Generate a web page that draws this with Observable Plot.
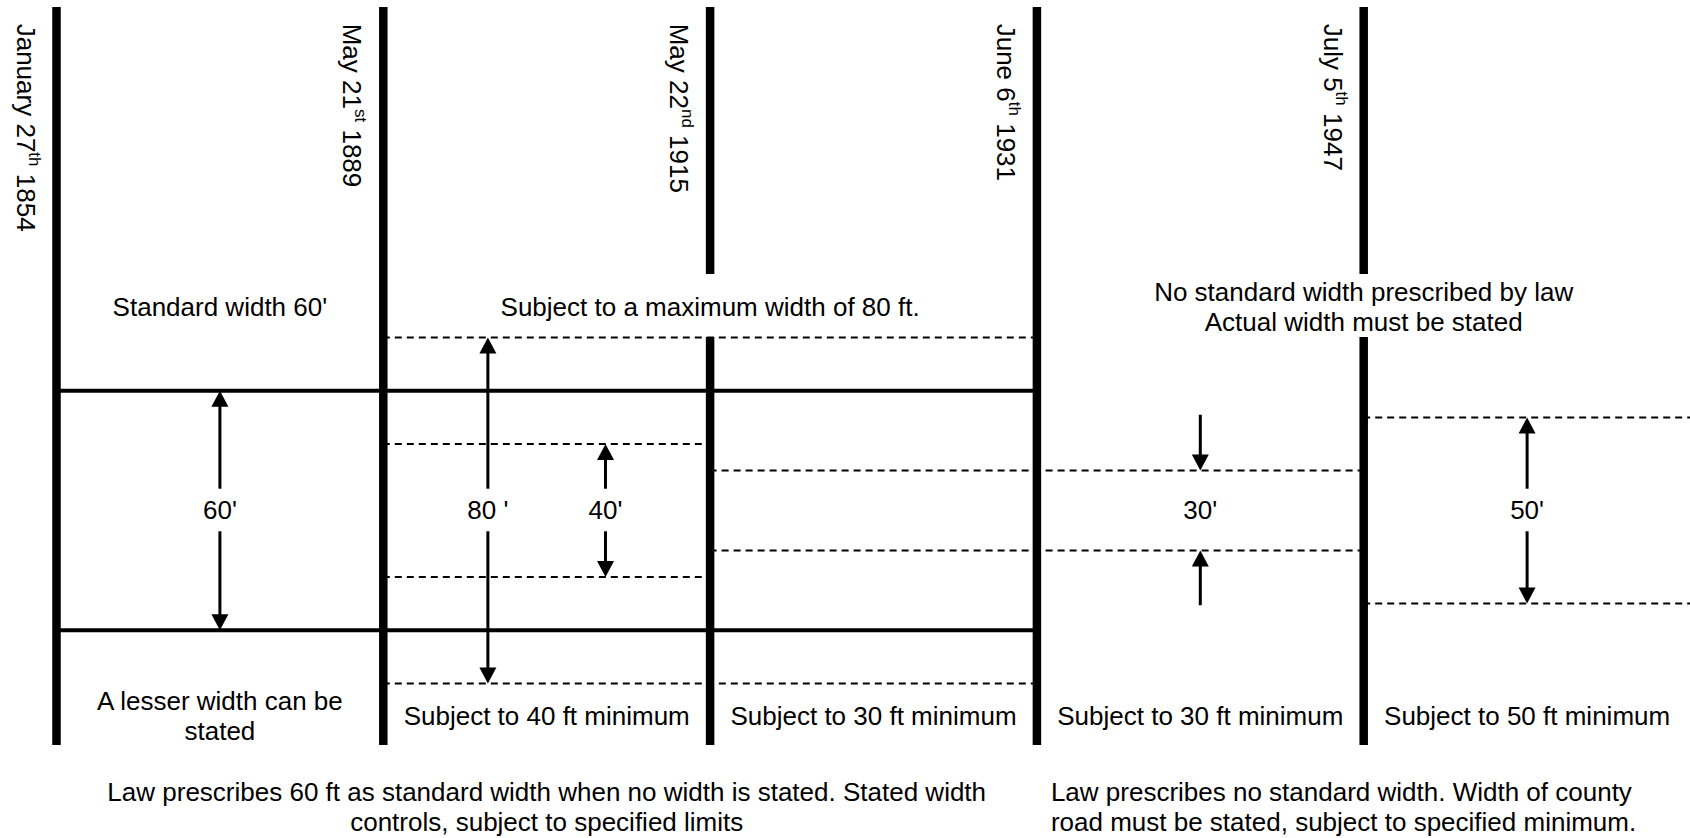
<!DOCTYPE html>
<html>
<head>
<meta charset="utf-8">
<script src="https://cdn.jsdelivr.net/npm/d3@7"></script>
<script src="https://cdn.jsdelivr.net/npm/@observablehq/plot@0.6"></script>
<style>
  html, body { margin: 0; padding: 0; background: #fff; }
  #chart svg { display: block; }
</style>
</head>
<body>
<div id="chart"></div>
<script>
// ---------------- DATA ----------------
// Statute dates (boundaries between eras, left to right)
const dates = ["January 27th 1854", "May 21st 1889", "May 22nd 1915", "June 6th 1931", "July 5th 1947"];

// Width limits (ft) and the boundaries between which each limit applies
const limitKind = ["standard", "maximum", "minimum", "minimum", "minimum"];
const limitFt   = [60, 80, 40, 30, 50];
const limitFrom = [0, 1, 1, 2, 4];
const limitTo   = [3, 3, 2, 4, 5];

// Dimension arrows
const arrowFt     = [60, 80, 40, 30, 50];
const arrowLabel  = ["60'", "80 '", "40'", "30'", "50'"];
const arrowColumn = [0, 1, 1, 3, 4];
const arrowInward = [false, false, false, true, false];

// Notes
const topNotes  = ["Standard width 60'", "Subject to a maximum width of 80 ft.", "No standard width prescribed by law\nActual width must be stated"];
const cellNotes = ["A lesser width can be\nstated", "Subject to 40 ft minimum", "Subject to 30 ft minimum", "Subject to 30 ft minimum", "Subject to 50 ft minimum"];
const captions  = ["Law prescribes 60 ft as standard width when no width is stated. Stated width\ncontrols, subject to specified limits",
                   "Law prescribes no standard width. Width of county\nroad must be stated, subject to specified minimum."];

// ---------------- LAYOUT ----------------
const FONT = '"Liberation Sans", Arial, Helvetica, sans-serif';
const FS = 26;
const LH = 30 / 26;
// schematic half-width of a road of w feet (the drawing compresses the centre)
const edge = w => w / 2 - 7.5;
const topNoteAt = [0.5, 2, 4];               // where top notes sit (column centre / boundary)
const arrowAt = [0.5, 0.32, 0.68, 0.5, 0.5]; // position inside its column
const Y_TOP = 94.55, Y_BOTTOM = -44.17, Y_GAP_TOP = 44.36;
const Y_TOPNOTE = 38.4, Y_CELL = -38.5, Y_CAPTION = -55.7, Y_DATE = 91.5;
const LABEL_GAP = 4, HEAD = 2, INWARD_LEN = 10.4;

// boundary segments (split where a top note straddles the boundary)
const gapBoundaries = topNoteAt.filter(Number.isInteger);
const boundarySegs = [];
dates.forEach((d, i) => {
  if (gapBoundaries.includes(i)) {
    boundarySegs.push({x: i, y1: Y_TOP, y2: Y_GAP_TOP});
    boundarySegs.push({x: i, y1: edge(80), y2: Y_BOTTOM});
  } else {
    boundarySegs.push({x: i, y1: Y_TOP, y2: Y_BOTTOM});
  }
});
const dateLabels = dates.map((d, i) => ({x: i, date: d}));

// limit lines
const limitLines = [];
limitFt.forEach((ft, k) => {
  for (const s of [1, -1]) limitLines.push({y: s * edge(ft), x1: limitFrom[k], x2: limitTo[k], kind: limitKind[k]});
});

// arrows
const shafts = [], headsUp = [], headsDown = [], arrowLabels = [];
arrowFt.forEach((ft, k) => {
  const x = arrowColumn[k] + arrowAt[k];
  const e = edge(ft);
  if (arrowInward[k]) {
    shafts.push({x, y1: e + INWARD_LEN, y2: e + 1});
    shafts.push({x, y1: -(e + INWARD_LEN), y2: -(e + 1)});
    headsDown.push({x, y: e});
    headsUp.push({x, y: -e});
  } else {
    shafts.push({x, y1: LABEL_GAP, y2: e - HEAD});
    shafts.push({x, y1: -LABEL_GAP, y2: -(e - HEAD)});
    headsUp.push({x, y: e});
    headsDown.push({x, y: -e});
  }
  arrowLabels.push({x, y: 0, text: arrowLabel[k]});
});

const triUp = {draw(ctx) { ctx.moveTo(0, 0); ctx.lineTo(-8.5, 16); ctx.lineTo(8.5, 16); ctx.closePath(); }};
const triDown = {draw(ctx) { ctx.moveTo(0, 0); ctx.lineTo(-8.5, -16); ctx.lineTo(8.5, -16); ctx.closePath(); }};

const topNoteData = topNotes.map((t, k) => ({x: topNoteAt[k], text: t}));
const cellNoteData = cellNotes.map((t, k) => ({x: k + 0.5, text: t}));

const chart = Plot.plot({
  width: 1690,
  height: 838,
  margin: 0,
  x: {domain: [0, 5], range: [56, 1690], axis: null},
  y: {domain: [-61.65, 95.86], range: [838, 0], axis: null},
  style: {fontFamily: FONT, background: "#fff", color: "#000", overflow: "visible"},
  marks: [
    // road edges
    Plot.ruleY(limitLines.filter(d => d.kind === "standard"), {y: "y", x1: "x1", x2: "x2", stroke: "#000", strokeWidth: 4}),
    Plot.ruleY(limitLines.filter(d => d.kind !== "standard"), {y: "y", x1: "x1", x2: "x2", stroke: "#000", strokeWidth: 2, strokeDasharray: "7,5"}),
    // statute boundaries
    Plot.ruleX(boundarySegs, {x: "x", y1: "y1", y2: "y2", stroke: "#000", strokeWidth: 8.5}),
    // dimension arrows
    Plot.ruleX(shafts, {x: "x", y1: "y1", y2: "y2", stroke: "#000", strokeWidth: 3}),
    Plot.dot(headsUp, {x: "x", y: "y", symbol: triUp, fill: "#000", stroke: "none", r: 6}),
    Plot.dot(headsDown, {x: "x", y: "y", symbol: triDown, fill: "#000", stroke: "none", r: 6}),
    Plot.text(arrowLabels, {x: "x", y: "y", text: "text", fontSize: FS, fill: "#000", lineAnchor: "middle"}),
    // date labels
    Plot.text(dateLabels, {x: "x", y: Y_DATE, text: "date", rotate: 90, textAnchor: "start", lineAnchor: "bottom", dx: -40, fontSize: FS, fill: "#000"}),
    // notes
    Plot.text(topNoteData, {x: "x", y: Y_TOPNOTE, text: "text", fontSize: FS, lineHeight: LH, fill: "#000", lineAnchor: "middle"}),
    Plot.text(cellNoteData, {x: "x", y: Y_CELL, text: "text", fontSize: FS, lineHeight: LH, fill: "#000", lineAnchor: "middle"}),
    Plot.text([{x: 1.5, text: captions[0]}], {x: "x", y: Y_CAPTION, text: "text", fontSize: FS, lineHeight: LH, fill: "#000", lineAnchor: "middle"}),
    Plot.text([{x: 3, text: captions[1]}], {x: "x", y: Y_CAPTION, text: "text", fontSize: FS, lineHeight: LH, fill: "#000", lineAnchor: "middle", textAnchor: "start", dx: 14})
  ]
});

// superscript ordinals on the date labels
const NS = "http://www.w3.org/2000/svg";
chart.querySelectorAll("text").forEach(el => {
  if (el.children.length) return;
  const m = el.textContent.match(/^(.*?\d+)(st|nd|rd|th)(\s.*)$/);
  if (!m) return;
  el.textContent = "";
  el.appendChild(document.createTextNode(m[1]));
  const sup = document.createElementNS(NS, "tspan");
  sup.setAttribute("dy", "-12");
  sup.setAttribute("font-size", "17");
  sup.textContent = m[2];
  el.appendChild(sup);
  const rest = document.createElementNS(NS, "tspan");
  rest.setAttribute("dy", "12");
  rest.setAttribute("font-size", String(FS));
  rest.textContent = m[3];
  el.appendChild(rest);
});

document.getElementById("chart").appendChild(chart);
</script>
</body>
</html>
